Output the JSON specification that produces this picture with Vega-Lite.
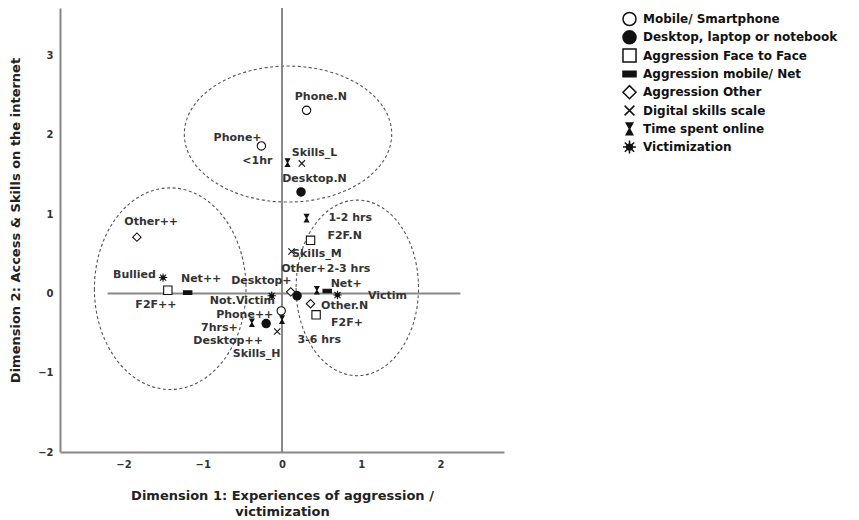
{
  "$schema": "https://vega.github.io/schema/vega-lite/v6.json",
  "width": 444,
  "height": 444,
  "autosize": "none",
  "padding": {"left": 60, "top": 8, "right": 355, "bottom": 68},
  "background": "white",
  "config": {
    "view": {"stroke": null},
    "font": "DejaVu Sans",
    "axis": {"grid": false, "ticks": false, "tickSize": 0, "domainColor": "#888", "domainWidth": 2, "labelFont": "DejaVu Sans", "labelFontSize": 10, "labelFontWeight": "bold", "labelColor": "#333", "labelPadding": 7, "titleFont": "DejaVu Sans", "titleFontSize": 13, "titleFontWeight": "bold", "titleColor": "#222"},
    "axisX": {"titleX": 222, "titleY": 37, "titleBaseline": "top", "titleAlign": "center", "titleAnchor": "middle", "titleLineHeight": 16},
    "axisY": {"titleX": -45, "titleY": 212, "titleAngle": -90, "titleBaseline": "middle", "titleAlign": "center"}
  },
  "layer": [
    {
      "data": {"values": [{"cx": 0.076, "cy": 2.01}]},
      "mark": {"type": "point", "shape": "M-1.037,0A1.037,0.68,0,1,0,1.037,0A1.037,0.68,0,1,0,-1.037,0Z", "size": 40000, "filled": false, "stroke": "#555", "strokeWidth": 1.1, "strokeDash": [3, 2.5], "opacity": 1},
      "encoding": {
        "x": {"field": "cx", "type": "quantitative", "scale": {"domain": [-2.8, 2.8], "nice": false, "zero": false}, "axis": {"title": ["Dimension 1: Experiences of aggression /", "victimization"], "values": [-2, -1, 0, 1, 2]}},
        "y": {"field": "cy", "type": "quantitative", "scale": {"domain": [-2, 3.6], "nice": false, "zero": false}, "axis": {"title": "Dimension 2: Access & Skills on the internet", "values": [-2, -1, 0, 1, 2, 3]}}
      }
    },
    {
      "data": {"values": [{"cx": -1.41, "cy": 0.06}]},
      "mark": {"type": "point", "shape": "M-0.758,0A0.758,1.008,0,1,0,0.758,0A0.758,1.008,0,1,0,-0.758,0Z", "size": 40000, "filled": false, "stroke": "#555", "strokeWidth": 1.1, "strokeDash": [3, 2.5], "opacity": 1},
      "encoding": {
        "x": {"field": "cx", "type": "quantitative", "scale": {"domain": [-2.8, 2.8], "nice": false, "zero": false}, "axis": {"title": ["Dimension 1: Experiences of aggression /", "victimization"], "values": [-2, -1, 0, 1, 2]}},
        "y": {"field": "cy", "type": "quantitative", "scale": {"domain": [-2, 3.6], "nice": false, "zero": false}, "axis": {"title": "Dimension 2: Access & Skills on the internet", "values": [-2, -1, 0, 1, 2, 3]}}
      }
    },
    {
      "data": {"values": [{"cx": 0.95, "cy": 0.07}]},
      "mark": {"type": "point", "shape": "M-0.612,0A0.612,0.878,0,1,0,0.612,0A0.612,0.878,0,1,0,-0.612,0Z", "size": 40000, "filled": false, "stroke": "#555", "strokeWidth": 1.1, "strokeDash": [3, 2.5], "opacity": 1},
      "encoding": {
        "x": {"field": "cx", "type": "quantitative", "scale": {"domain": [-2.8, 2.8], "nice": false, "zero": false}, "axis": {"title": ["Dimension 1: Experiences of aggression /", "victimization"], "values": [-2, -1, 0, 1, 2]}},
        "y": {"field": "cy", "type": "quantitative", "scale": {"domain": [-2, 3.6], "nice": false, "zero": false}, "axis": {"title": "Dimension 2: Access & Skills on the internet", "values": [-2, -1, 0, 1, 2, 3]}}
      }
    },
    {
      "data": {"values": [{"v": 0}]},
      "mark": {"type": "rule", "color": "#888", "strokeWidth": 2},
      "encoding": {
        "x": {"field": "v", "type": "quantitative", "scale": {"domain": [-2.8, 2.8], "nice": false, "zero": false}, "axis": {"title": ["Dimension 1: Experiences of aggression /", "victimization"], "values": [-2, -1, 0, 1, 2]}}
      }
    },
    {
      "data": {"values": [{"v": 0, "a": -2.2, "b": 2.25}]},
      "mark": {"type": "rule", "color": "#888", "strokeWidth": 2},
      "encoding": {
        "y": {"field": "v", "type": "quantitative", "scale": {"domain": [-2, 3.6], "nice": false, "zero": false}, "axis": {"title": "Dimension 2: Access & Skills on the internet", "values": [-2, -1, 0, 1, 2, 3]}},
        "x": {"field": "a", "type": "quantitative", "scale": {"domain": [-2.8, 2.8], "nice": false, "zero": false}, "axis": {"title": ["Dimension 1: Experiences of aggression /", "victimization"], "values": [-2, -1, 0, 1, 2]}},
        "x2": {"field": "b"}
      }
    },
    {
      "data": {"name": "pts", "values": [
        {"name": "Phone.N", "group": "Mobile/ Smartphone", "x": 0.31, "y": 2.31, "lx": 0.49, "ly": 2.48},
        {"name": "Phone+", "group": "Mobile/ Smartphone", "x": -0.26, "y": 1.86, "lx": -0.56, "ly": 1.96},
        {"name": "Phone++", "group": "Mobile/ Smartphone", "x": -0.01, "y": -0.22, "lx": -0.47, "ly": -0.27},
        {"name": "Desktop.N", "group": "Desktop, laptop or notebook", "x": 0.24, "y": 1.28, "lx": 0.41, "ly": 1.44},
        {"name": "Desktop+", "group": "Desktop, laptop or notebook", "x": 0.19, "y": -0.03, "lx": -0.26, "ly": 0.16},
        {"name": "Desktop++", "group": "Desktop, laptop or notebook", "x": -0.2, "y": -0.38, "lx": -0.68, "ly": -0.6},
        {"name": "F2F.N", "group": "Aggression Face to Face", "x": 0.36, "y": 0.67, "lx": 0.79, "ly": 0.73},
        {"name": "F2F+", "group": "Aggression Face to Face", "x": 0.43, "y": -0.27, "lx": 0.82, "ly": -0.37},
        {"name": "F2F++", "group": "Aggression Face to Face", "x": -1.44, "y": 0.04, "lx": -1.59, "ly": -0.15},
        {"name": "Net+", "group": "Aggression mobile/ Net", "x": 0.57, "y": 0.03, "lx": 0.81, "ly": 0.12},
        {"name": "Net++", "group": "Aggression mobile/ Net", "x": -1.19, "y": 0.01, "lx": -1.02, "ly": 0.18},
        {"name": "Other.N", "group": "Aggression Other", "x": 0.36, "y": -0.13, "lx": 0.79, "ly": -0.16},
        {"name": "Other+", "group": "Aggression Other", "x": 0.11, "y": 0.02, "lx": 0.27, "ly": 0.31},
        {"name": "Other++", "group": "Aggression Other", "x": -1.83, "y": 0.71, "lx": -1.65, "ly": 0.9},
        {"name": "Skills_L", "group": "Digital skills scale", "x": 0.25, "y": 1.64, "lx": 0.41, "ly": 1.77},
        {"name": "Skills_M", "group": "Digital skills scale", "x": 0.12, "y": 0.53, "lx": 0.44, "ly": 0.5},
        {"name": "Skills_H", "group": "Digital skills scale", "x": -0.06, "y": -0.48, "lx": -0.32, "ly": -0.76},
        {"name": "<1hr", "group": "Time spent online", "x": 0.07, "y": 1.65, "lx": -0.31, "ly": 1.67},
        {"name": "1-2 hrs", "group": "Time spent online", "x": 0.31, "y": 0.95, "lx": 0.86, "ly": 0.95},
        {"name": "2-3 hrs", "group": "Time spent online", "x": 0.44, "y": 0.04, "lx": 0.84, "ly": 0.31},
        {"name": "3-6 hrs", "group": "Time spent online", "x": 0.0, "y": -0.33, "lx": 0.47, "ly": -0.59},
        {"name": "7hrs+", "group": "Time spent online", "x": -0.38, "y": -0.37, "lx": -0.79, "ly": -0.43},
        {"name": "Bullied", "group": "Victimization", "x": -1.5, "y": 0.2, "lx": -1.86, "ly": 0.23},
        {"name": "Victim", "group": "Victimization", "x": 0.7, "y": -0.02, "lx": 1.33, "ly": -0.03},
        {"name": "Not.Victim", "group": "Victimization", "x": -0.13, "y": -0.03, "lx": -0.5, "ly": -0.09}
      ]},
      "layer": [
        {
          "mark": {"type": "point", "filled": true, "stroke": "#111", "strokeWidth": 1.1, "size": 70, "opacity": 1},
          "encoding": {
            "x": {"field": "x", "type": "quantitative", "scale": {"domain": [-2.8, 2.8], "nice": false, "zero": false}, "axis": {"title": ["Dimension 1: Experiences of aggression /", "victimization"], "values": [-2, -1, 0, 1, 2]}},
            "y": {"field": "y", "type": "quantitative", "scale": {"domain": [-2, 3.6], "nice": false, "zero": false}, "axis": {"title": "Dimension 2: Access & Skills on the internet", "values": [-2, -1, 0, 1, 2, 3]}},
            "shape": {"field": "group", "type": "nominal",
              "scale": {"domain": ["Mobile/ Smartphone", "Desktop, laptop or notebook", "Aggression Face to Face", "Aggression mobile/ Net", "Aggression Other", "Digital skills scale", "Time spent online", "Victimization"],
                "range": ["circle", "circle", "square", "M-1,-0.42H1V0.42H-1Z", "diamond", "M-0.75,-0.75L0.75,0.75M-0.75,0.75L0.75,-0.75", "M-0.5,-0.9H0.5L-0.5,0.9H0.5Z", "M-0.45,0A0.45,0.45,0,1,0,0.45,0A0.45,0.45,0,1,0,-0.45,0ZM0,-1V-0.55M0,0.55V1M-1,0H-0.55M0.55,0H1M-0.72,-0.72L-0.4,-0.4M0.4,0.4L0.72,0.72M-0.72,0.72L-0.4,0.4M0.4,-0.4L0.72,-0.72"]},
              "legend": {"orient": "none", "legendX": 562, "legendY": 2, "title": null, "symbolSize": 170, "labelFontSize": 12, "labelFontWeight": "bold", "labelFont": "DejaVu Sans", "labelColor": "#111", "labelLimit": 300, "labelOffset": 6, "rowPadding": 0.3, "clipHeight": 18, "padding": 0,
                "encode": {"symbols": {"update": {"stroke": {"value": "#111"}, "strokeWidth": {"value": 1.2}}}}}},
            "fill": {"field": "group", "type": "nominal",
              "scale": {"domain": ["Mobile/ Smartphone", "Desktop, laptop or notebook", "Aggression Face to Face", "Aggression mobile/ Net", "Aggression Other", "Digital skills scale", "Time spent online", "Victimization"],
                "range": ["white", "#111", "white", "#111", "white", "white", "#111", "#111"]},
              "legend": {"orient": "none", "legendX": 562, "legendY": 2, "title": null, "symbolSize": 170, "labelFontSize": 12, "labelFontWeight": "bold", "labelFont": "DejaVu Sans", "labelColor": "#111", "labelLimit": 300, "labelOffset": 6, "rowPadding": 0.3, "clipHeight": 18, "padding": 0,
                "encode": {"symbols": {"update": {"stroke": {"value": "#111"}, "strokeWidth": {"value": 1.2}}}}}}
          }
        },
        {
          "mark": {"type": "text", "font": "DejaVu Sans", "fontSize": 11, "fontWeight": "bold", "color": "#333", "align": "center", "baseline": "middle"},
          "encoding": {
            "x": {"field": "lx", "type": "quantitative", "scale": {"domain": [-2.8, 2.8], "nice": false, "zero": false}, "axis": {"title": ["Dimension 1: Experiences of aggression /", "victimization"], "values": [-2, -1, 0, 1, 2]}},
            "y": {"field": "ly", "type": "quantitative", "scale": {"domain": [-2, 3.6], "nice": false, "zero": false}, "axis": {"title": "Dimension 2: Access & Skills on the internet", "values": [-2, -1, 0, 1, 2, 3]}},
            "text": {"field": "name"}
          }
        }
      ]
    }
  ]
}
